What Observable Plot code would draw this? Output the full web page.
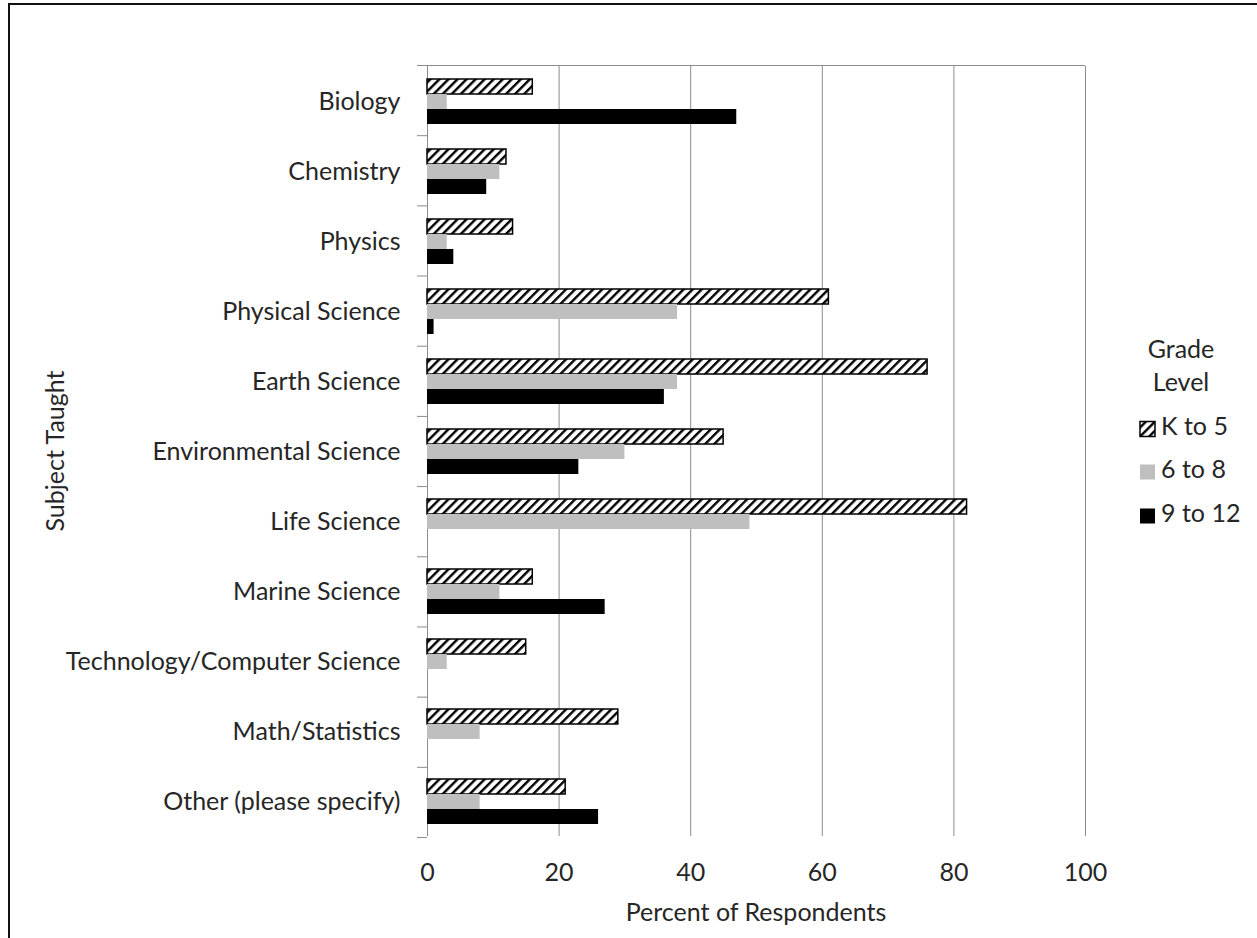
<!DOCTYPE html>
<html><head><meta charset="utf-8">
<script src="https://cdn.jsdelivr.net/npm/d3@7"></script>
<script src="https://cdn.jsdelivr.net/npm/@observablehq/plot@0.6"></script>
<style>
body{margin:0;background:#fff;}
#wrap{position:relative;width:1257px;height:938px;overflow:hidden;}
#frame{position:absolute;left:8px;top:3px;width:1300px;height:1000px;border-left:2px solid #111;border-top:2px solid #111;pointer-events:none;}
</style></head><body><div id="wrap"><div id="chart"></div><div id="frame"></div></div>
<script>
const subjects = ["Biology","Chemistry","Physics","Physical Science","Earth Science","Environmental Science","Life Science","Marine Science","Technology/Computer Science","Math/Statistics","Other (please specify)"];
const grades = ["K to 5","6 to 8","9 to 12"];
const k5   = [16,12,13,61,76,45,82,16,15,29,21];
const g6to8 = [3,11,3,38,38,30,49,11,3,8,8];
const g9to12 = [47,9,4,1,36,23,0,27,0,0,26];
const xTicks = [0,20,40,60,80,100];
const xTitle = "Percent of Respondents";
const yTitle = "Subject Taught";
const legendTitle = ["Grade","Level"];

const series = [k5, g6to8, g9to12];
const rowsFor = j => subjects.map((s,i)=>({subject:s, grade:grades[j], value:series[j][i]}));

const FONT = "Lato, 'Open Sans', sans-serif";
const FS = 25;
const W=1257, H=938, mL=427, mR=172, mT=65, mB=101;
const TEXT="#262626", GRID="#8c8c8c", GRAY="#bfbfbf";

const plot = Plot.plot({
  width:W, height:H,
  marginLeft:mL, marginRight:mR, marginTop:mT, marginBottom:mB,
  style:{fontFamily:FONT, fontSize:FS+"px", color:TEXT, background:"transparent", overflow:"visible"},
  x:{domain:[0,100], ticks:xTicks, tickSize:0, tickPadding:27, label:null},
  fy:{domain:subjects, padding:0, label:null, tickSize:0, tickPadding:27, axis:"left"},
  y:{domain:grades, axis:null, paddingInner:0, paddingOuter:0.74},
  marks:[
    Plot.ruleX(xTicks.slice(1), {stroke:GRID, strokeWidth:1}),
    Plot.ruleX([0], {stroke:GRID, strokeWidth:1}),
    Plot.barX(rowsFor(0), {fy:"subject", y:"grade", x:"value", fill:"url(#hatch)", stroke:"#000", strokeWidth:1.5}),
    Plot.barX(rowsFor(1), {fy:"subject", y:"grade", x:"value", fill:GRAY}),
    Plot.barX(rowsFor(2), {fy:"subject", y:"grade", x:"value", fill:"#000"})
  ]
});
document.getElementById("chart").appendChild(plot);

const svg = d3.select(plot);
svg.insert("defs", ":first-child").html(
  `<pattern id="hatch" patternUnits="userSpaceOnUse" width="6.4" height="6.4" patternTransform="rotate(45)">
     <rect width="6.4" height="6.4" fill="#fff"/><rect width="2.4" height="6.4" fill="#000"/>
   </pattern>`);

const xs = plot.scale("x");
const band = d3.scaleBand().domain(subjects).range([mT, H-mB]).padding(0);
const g = svg.append("g").attr("font-family",FONT).attr("font-size",FS).attr("fill",TEXT);
// top line
g.append("line").attr("x1", xs.apply(0)-10).attr("x2", xs.apply(100)).attr("y1", mT+0.5).attr("y2", mT+0.5).attr("stroke", GRID);
// boundary ticks
const bounds = subjects.map(s=>band(s)).concat([H-mB]);
g.selectAll("line.tk").data(bounds).join("line").attr("class","tk")
  .attr("x1", xs.apply(0)-10).attr("x2", xs.apply(0)).attr("y1", d=>d+0.5).attr("y2", d=>d+0.5).attr("stroke", GRID);
// titles
g.append("text").attr("x", (xs.apply(0)+xs.apply(100))/2).attr("y", 915).attr("text-anchor","middle").attr("dominant-baseline","middle").text(xTitle);
g.append("text").attr("transform",`translate(58,${(mT+H-mB)/2}) rotate(-90)`).attr("text-anchor","middle").attr("dominant-baseline","middle").text(yTitle);
// legend
legendTitle.forEach((t,i)=>g.append("text").attr("x",1181).attr("y",352+i*33).attr("text-anchor","middle").attr("dominant-baseline","middle").text(t));
const legendY = [429, 472, 516];
const fills = ["url(#hatch)", GRAY, "#000"];
grades.forEach((gr,i)=>{
  g.append("rect").attr("x",1140).attr("y",legendY[i]-7.5).attr("width",15).attr("height",15)
    .attr("fill",fills[i]).attr("stroke", i===0?"#000":"none").attr("stroke-width",1.5);
  g.append("text").attr("x",1161).attr("y",legendY[i]).attr("text-anchor","start").attr("dominant-baseline","middle").text(gr);
});
</script></body></html>
